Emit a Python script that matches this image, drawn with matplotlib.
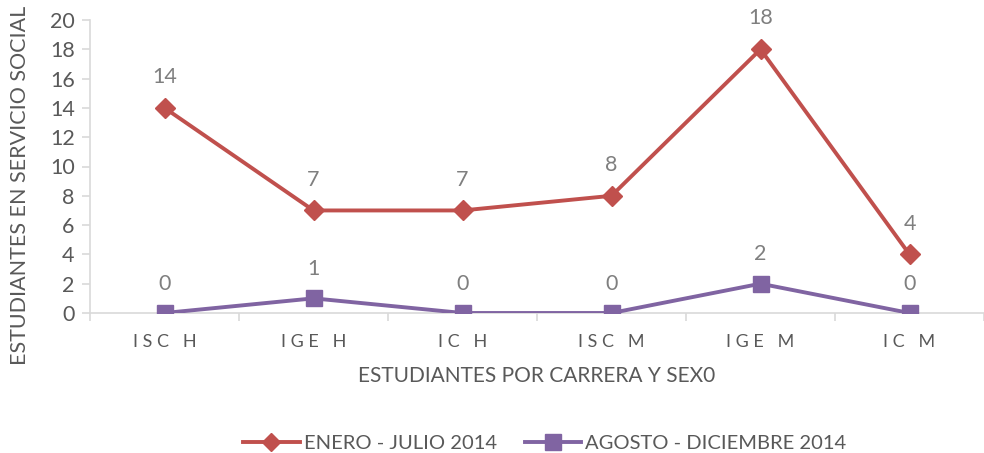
import matplotlib.pyplot as plt
from matplotlib.lines import Line2D

plt.rcParams['font.family'] = ['Lato', 'DejaVu Sans']

categorias = ["I S C   H", "I G E   H", "I C   H", "I S C   M", "I G E   M", "I C   M"]
enero_julio = [14, 7, 7, 8, 18, 4]
agosto_dic = [0, 1, 0, 0, 2, 0]

rojo = "#C0504D"
morado = "#8064A2"
gris = "#595959"
eje = "#D9D9D9"

fig = plt.figure(figsize=(9.84, 4.53), dpi=100)
ax = fig.add_axes([90 / 984, 140 / 453, 894 / 984, 293 / 453])

x = list(range(len(categorias)))
ax.plot(x, enero_julio, color=rojo, lw=2.8, marker="D", ms=10, zorder=3)
ax.plot(x, agosto_dic, color=morado, lw=2.8, marker="s", ms=12, zorder=3)

for xi, v in zip(x, enero_julio):
    ax.annotate(str(v), (xi, v), xytext=(0, 15), textcoords="offset points",
                ha="center", va="bottom", fontsize=15.5, color="#7F7F7F")
for xi, v in zip(x, agosto_dic):
    ax.annotate(str(v), (xi, v), xytext=(0, 14), textcoords="offset points",
                ha="center", va="bottom", fontsize=15.5, color="#7F7F7F")

ax.set_xlim(-0.5, 5.46)
ax.set_ylim(0, 20)
ax.set_yticks(range(0, 21, 2))
ax.set_xticks(x)
ax.set_xticklabels(categorias)
ax.set_xticks([i + 0.5 for i in range(-1, 6)], minor=True)
ax.tick_params(axis="x", which="major", length=0, pad=15, labelsize=13, colors=gris)
ax.tick_params(axis="x", which="minor", length=6, color=eje, width=1.2)
ax.tick_params(axis="y", length=6, color=eje, width=1.2, labelsize=15.5, labelcolor=gris, pad=5)

for s in ["top", "right"]:
    ax.spines[s].set_visible(False)
for s in ["left", "bottom"]:
    ax.spines[s].set_color(eje)
    ax.spines[s].set_linewidth(1.2)

ax.set_xlabel("ESTUDIANTES POR CARRERA Y SEX0", fontsize=15, color=gris, labelpad=12)
fig.text(20 / 984, 268 / 453, "ESTUDIANTES EN SERVICIO SOCIAL", rotation=90,
         ha="center", va="center", fontsize=15.5, color=gris)

handles = [Line2D([], [], color=rojo, lw=2.8, marker="D", ms=9),
           Line2D([], [], color=morado, lw=2.8, marker="s", ms=11)]
fig.legend(handles, ["ENERO - JULIO 2014", "AGOSTO - DICIEMBRE 2014"],
           loc="center", bbox_to_anchor=(545 / 984, 10 / 453), ncol=2, frameon=False,
           fontsize=14.5, labelcolor=gris, handlelength=2.8, columnspacing=1.4, handletextpad=0.2)

fig.savefig("out.png", dpi=100)
